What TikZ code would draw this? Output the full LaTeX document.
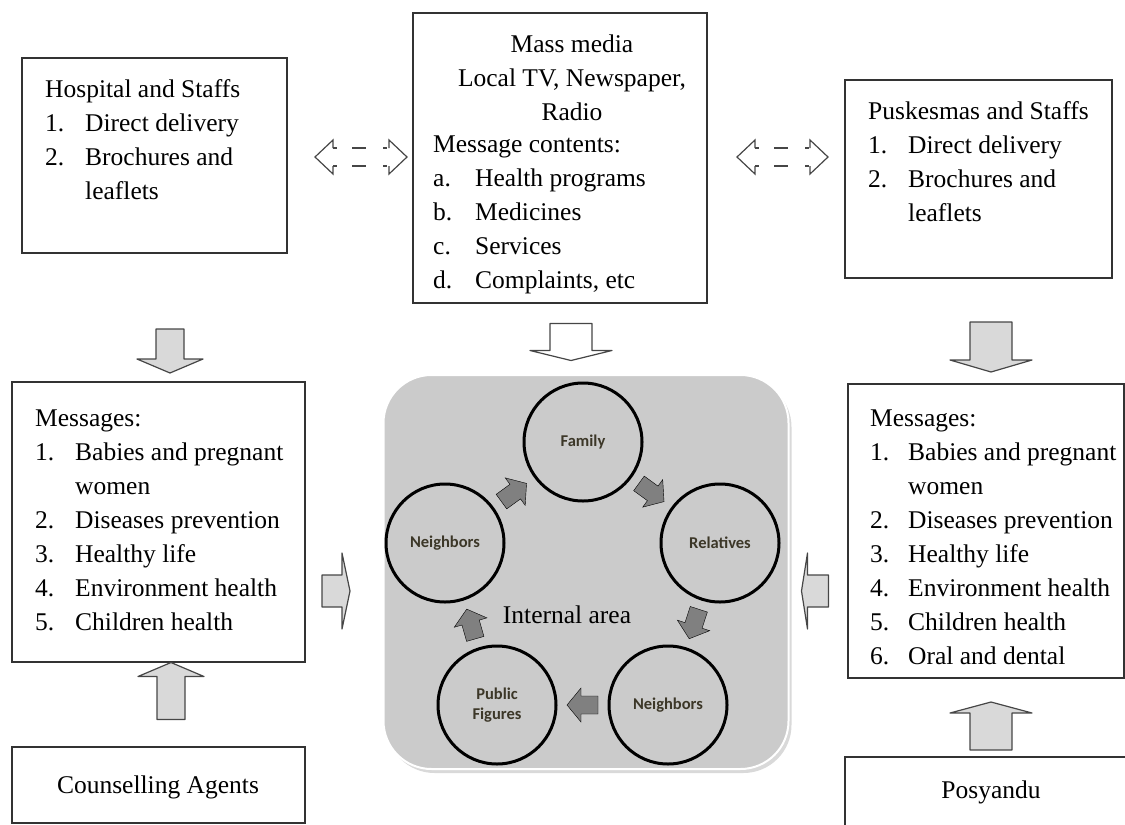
\documentclass[tikz,border=0pt]{standalone}
\usepackage{fontspec}
\setmainfont{Liberation Serif}
\newfontfamily\circfont{Carlito}
\usetikzlibrary{calc, shadows}
\definecolor{panelgray}{RGB}{203,203,203}
\definecolor{cyclegray}{RGB}{128,128,128}
\definecolor{blockgray}{RGB}{217,217,217}
\definecolor{edgegray}{RGB}{70,70,70}
\definecolor{circletext}{RGB}{60,55,40}

% block arrow: style, centre, angle, length, shaft half, head half, head length
\newcommand{\blockarrow}[7]{%
  \draw[#1, shift={#2}, rotate=#3]
    (-#4/2,-#5) -- (#4/2-#7,-#5) -- (#4/2-#7,-#6) -- (#4/2,0)
    -- (#4/2-#7,#6) -- (#4/2-#7,#5) -- (-#4/2,#5) -- cycle;}
% arrow between two circles of the cycle
\newcommand{\cyclearrow}[3]{%
  \blockarrow{cyc}{($(#1)!0.5!(#2)$)}{#3}{31}{9}{17}{14}}
% hollow double arrow with a dashed shaft: left tip, length, height
\newcommand{\twinarrow}[3]{%
  \draw[twin, shift={(#1,#3)}]
    (18,-9) -- (18,-17) -- (0,0) -- (18,17) -- (18,9)
    (#2-18,-9) -- (#2-18,-17) -- (#2,0) -- (#2-18,17) -- (#2-18,9);
  \draw[twin, shift={(#1,#3)}, dash pattern=on 4pt off 15pt on 14pt off 17pt on 4pt]
    (18,-9) -- (#2-18,-9) (18,9) -- (#2-18,9);}

\begin{document}
\begin{tikzpicture}[x=1pt, y=-1pt,
  font=\fontsize{25.5}{34}\selectfont,
  box/.style={draw=black!80, line width=1.3pt, inner sep=0pt},
  txt/.style={inner sep=0pt, anchor=base west},
  panel/.style={rounded corners=48pt, fill=panelgray, draw=white, line width=2pt,
                drop shadow={opacity=0.3, shadow xshift=3pt, shadow yshift=-4pt}},
  person/.style={circle, draw=black, line width=3pt, minimum size=118pt, inner sep=0pt,
                 align=center, text=circletext,
                 font=\circfont\bfseries\fontsize{16.5}{20}\selectfont},
  blk/.style={fill=blockgray, draw=edgegray, line width=1.2pt, line join=round},
  cyc/.style={fill=cyclegray},
  twin/.style={draw=edgegray, line width=1.2pt}]
\useasboundingbox (0,0) rectangle (1125,825);

% boxes
\node[box, minimum width=265, minimum height=195] (hosp) at (154.5,155.5) {};
\node[box, minimum width=294, minimum height=290] (mass) at (560,158) {};
\node[box, minimum width=267, minimum height=198] (pusk) at (978.5,179) {};
\node[box, minimum width=293, minimum height=280] (msgL) at (158.5,522) {};
\node[box, minimum width=276, minimum height=294] (msgR) at (986,531) {};
\node[box, minimum width=293, minimum height=76] (couns) at (158.5,785) {};
\node[box, minimum width=290, minimum height=78] (posy) at (990,796) {};

% box texts
\node[txt] (hosptxt) at (45,97) {\begin{tabular}[t]{@{}p{40pt}@{}l@{}}
  \multicolumn{2}{@{}l@{}}{Hospital and Staffs}\\
  1. & Direct delivery\\ 2. & Brochures and\\ & leaflets\end{tabular}};
\node[inner sep=0pt, anchor=base] (masshead) at (572,52) {\begin{tabular}[t]{@{}c@{}}
  Mass media\\ Local TV, Newspaper,\\ Radio\end{tabular}};
\node[txt] (masstxt) at (433,152) {\begin{tabular}[t]{@{}p{42pt}@{}l@{}}
  \multicolumn{2}{@{}l@{}}{Message contents:}\\
  a. & Health programs\\ b. & Medicines\\ c. & Services\\ d. & Complaints, etc\end{tabular}};
\node[txt] (pusktxt) at (868,119) {\begin{tabular}[t]{@{}p{40pt}@{}l@{}}
  \multicolumn{2}{@{}l@{}}{Puskesmas and Staffs}\\
  1. & Direct delivery\\ 2. & Brochures and\\ & leaflets\end{tabular}};
\node[txt] (msgLtxt) at (35,426) {\begin{tabular}[t]{@{}p{40pt}@{}l@{}}
  \multicolumn{2}{@{}l@{}}{Messages:}\\
  1. & Babies and pregnant\\ & women\\ 2. & Diseases prevention\\
  3. & Healthy life\\ 4. & Environment health\\ 5. & Children health\end{tabular}};
\node[txt] (msgRtxt) at (870,426) {\begin{tabular}[t]{@{}p{38pt}@{}l@{}}
  \multicolumn{2}{@{}l@{}}{Messages:}\\
  1. & Babies and pregnant\\ & women\\ 2. & Diseases prevention\\
  3. & Healthy life\\ 4. & Environment health\\ 5. & Children health\\
  6. & Oral and dental\end{tabular}};
\node[inner sep=0pt, anchor=base] (counstxt) at (158,793) {Counselling Agents};
\node[inner sep=0pt, anchor=base] (posytxt) at (991,798) {Posyandu};

% internal area
\node[panel, minimum width=405, minimum height=394] (inner) at (586,572) {};
\node[person] (family) at (583,442) {Family};
\node[person] (relatives) at (720,543) {Relatives};
\node[person] (neighR) at (668,705) {Neighbors};
\node[person] (public) at (497,705) {Public\\Figures};
\node[person] (neighL) at (445,543) {Neighbors};
\node[inner sep=0pt, anchor=base] (area) at (567,623) {Internal area};
\cyclearrow{neighL}{family}{36}
\cyclearrow{family}{relatives}{-36}
\cyclearrow{relatives}{neighR}{-108}
\cyclearrow{neighR}{public}{180}
\cyclearrow{public}{neighL}{106}

% big arrows
\blockarrow{blk}{(170,351)}{-90}{44}{14}{33}{14}
\blockarrow{blk, fill=white}{(571,342)}{-90}{37}{21}{41}{10}
\blockarrow{blk}{(991,347)}{-90}{50}{21}{41}{12}
\blockarrow{blk}{(336,591)}{0}{28}{16}{38}{8}
\blockarrow{blk}{(815,591)}{180}{27}{16}{38}{6}
\blockarrow{blk}{(171,691)}{90}{57}{14}{33}{14}
\blockarrow{blk}{(991,726)}{90}{48}{21}{41}{11}

% dashed twin arrows
\twinarrow{315}{92}{157}
\twinarrow{737}{91}{157}
\end{tikzpicture}
\end{document}
